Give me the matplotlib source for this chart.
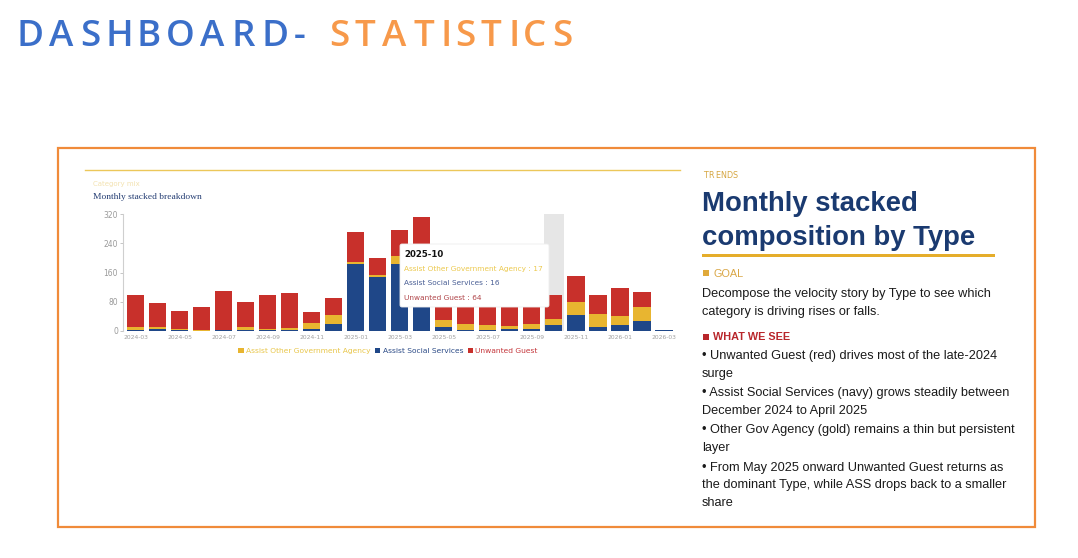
import matplotlib
matplotlib.use("Agg")
import matplotlib.pyplot as plt
from matplotlib.textpath import TextPath
from matplotlib.font_manager import FontProperties
from matplotlib.patches import Rectangle, FancyBboxPatch
import numpy as np

# ---------------- data ----------------
months = ["2024-03", "2024-04", "2024-05", "2024-06", "2024-07", "2024-08",
          "2024-09", "2024-10", "2024-11", "2024-12", "2025-01", "2025-02",
          "2025-03", "2025-04", "2025-05", "2025-06", "2025-07", "2025-08",
          "2025-09", "2025-10", "2025-11", "2025-12", "2026-01", "2026-02",
          "2026-03"]
other_gov = [8, 5, 1, 2, 2, 9, 5, 5, 14, 25, 7, 4, 23, 10, 18, 17, 14, 9, 15,
             17, 37, 34, 26, 37, 0]
social = [1, 4, 3, 0, 1, 1, 1, 3, 6, 18, 182, 149, 182, 224, 11, 1, 2, 4, 4,
          16, 43, 11, 15, 28, 3]
unwanted = [88, 66, 50, 63, 106, 70, 93, 97, 32, 47, 82, 48, 73, 78, 75, 72,
            75, 80, 70, 64, 70, 53, 77, 42, 0]
series_names = ["Assist Other Government Agency", "Assist Social Services",
                "Unwanted Guest"]
y_ticks = [0, 80, 160, 240, 320]
hover_month = "2025-10"

GOLD = "#e8b530"
NAVY = "#1f4788"
RED = "#c8302b"
ORANGE = "#f08b3a"

W, H = 1078, 558
fig = plt.figure(figsize=(W / 100, H / 100), dpi=100)
fig.patch.set_facecolor("white")

# background overlay (pixel coordinates)
bg = fig.add_axes([0, 0, 1, 1])
bg.set_xlim(0, W)
bg.set_ylim(H, 0)
bg.axis("off")
bg.set_zorder(0)


def spaced_text(ax, x, y, s, size, color, spacing, family, weight="normal"):
    fp = FontProperties(family=family, weight=weight, size=size)
    px_per_pt = 100 / 72.0
    for ch in s:
        ax.text(x, y, ch, fontproperties=fp, color=color, va="baseline",
                ha="left")
        if ch == " ":
            w = TextPath((0, 0), "a", prop=fp).get_extents().width * 0.9
        else:
            tp = TextPath((0, 0), ch, prop=fp)
            w = tp.get_extents().x1
        x += w * px_per_pt + spacing
    return x


# page title
xe = spaced_text(bg, 17, 46, "DASHBOARD-", 26.5, "#3b6fc9", 7.0, "Open Sans",
                 "semibold")
spaced_text(bg, xe + 18, 46, "STATISTICS", 26.5, "#f7994a", 7.0, "Open Sans",
            "semibold")

# orange frame
bg.add_patch(Rectangle((58, 148), 977, 379, fill=False, edgecolor=ORANGE,
                       linewidth=1.6))

# chart header
bg.plot([85, 680], [169.5, 169.5], color="#ecc75a", linewidth=1.0)
bg.text(93, 186, "Category mix", fontsize=5, color="#f3e2b0",
        family="DejaVu Sans", va="baseline")
bg.text(93, 199, "Monthly stacked breakdown", fontsize=6.8, color="#243d73",
        family="Liberation Serif", va="baseline")

# right panel
spaced_text(bg, 703, 178.5, "TRENDS", 5.8, "#d6a640", 0.8, "DejaVu Sans")
bg.text(702, 211, "Monthly stacked", fontsize=19.8, fontweight="bold",
        color="#1a3a70", family="Liberation Sans", va="baseline")
bg.text(702, 245, "composition by Type", fontsize=19.8, fontweight="bold",
        color="#1a3a70", family="Liberation Sans", va="baseline")
bg.add_patch(Rectangle((702, 253.5), 293, 3, facecolor="#e5ad2a",
                       edgecolor="none"))
bg.add_patch(Rectangle((703, 270), 6, 6, facecolor="#e0a93a",
                       edgecolor="none"))
bg.text(713, 277, "GOAL", fontsize=7.8, color="#d9a645",
        family="Liberation Sans", va="baseline")
body = dict(fontsize=9.2, color="#1a1a1a", family="Liberation Sans",
            va="baseline")
bg.text(702, 297, "Decompose the velocity story by Type to see which", **body)
bg.text(702, 315, "category is driving rises or falls.", **body)
bg.add_patch(Rectangle((703, 334), 6, 6, facecolor="#b8262b",
                       edgecolor="none"))
bg.text(713, 340, "WHAT WE SEE", fontsize=7.8, fontweight="bold",
        color="#b8262b", family="Liberation Sans", va="baseline")
lines = [
    (359, "\u2022 Unwanted Guest (red) drives most of the late-2024"),
    (377, "surge"),
    (396, "\u2022 Assist Social Services (navy) grows steadily between"),
    (414, "December 2024 to April 2025"),
    (433, "\u2022 Other Gov Agency (gold) remains a thin but persistent"),
    (451, "layer"),
    (471, "\u2022 From May 2025 onward Unwanted Guest returns as"),
    (488, "the dominant Type, while ASS drops back to a smaller"),
    (506, "share"),
]
for yy, s in lines:
    bg.text(702, yy, s, **body)

# ---------------- chart ----------------
x0_px, x1_px = 123, 675
y0_px, y1_px = 330.7, 214.3
ax = fig.add_axes([x0_px / W, (H - y0_px) / H, (x1_px - x0_px) / W,
                   (y0_px - y1_px) / H])
ax.set_zorder(1)
ax.patch.set_alpha(0)

x = np.arange(len(months))
og = np.array(other_gov)
ss = np.array(social)
ug = np.array(unwanted)

hi = months.index(hover_month)
ax.axvspan(hi - 0.47, hi + 0.47, color="#e6e6e6", zorder=0, linewidth=0)

bw = 0.78
b1 = ax.bar(x, ss, width=bw, color=NAVY, zorder=2, label=series_names[1])
b2 = ax.bar(x, og, width=bw, bottom=ss, color=GOLD, zorder=2,
            label=series_names[0])
b3 = ax.bar(x, ug, width=bw, bottom=ss + og, color=RED, zorder=2,
            label=series_names[2])

ax.set_xlim(-0.57, len(months) - 0.5)
ax.set_ylim(0, 320)
ax.set_yticks(y_ticks)
ax.set_yticklabels([str(v) for v in y_ticks], fontsize=5.5, color="#9a9a9a")
ax.set_xticks(x[::2])
ax.set_xticklabels(months[::2], fontsize=4.3, color="#a0a0a0")
for s in ["top", "right", "bottom"]:
    ax.spines[s].set_visible(False)
ax.spines["left"].set_color("#cfcfcf")
ax.spines["left"].set_linewidth(0.8)
ax.tick_params(axis="y", length=2, width=0.6, color="#bdbdbd", pad=1.5)
ax.tick_params(axis="x", length=0, pad=3)

leg = ax.legend(handles=[b2, b1, b3], labels=[series_names[0],
                series_names[1], series_names[2]],
                loc="center", bbox_to_anchor=(0.48, -0.175), ncol=3,
                frameon=False, fontsize=5.4, handlelength=0.7,
                handleheight=0.7, handletextpad=0.3, columnspacing=0.6,
                labelcolor=["#e8c64a", "#2b4a86", "#c4353a"])

# ---------------- tooltip ----------------
tt = fig.add_axes([0, 0, 1, 1])
tt.set_xlim(0, W)
tt.set_ylim(H, 0)
tt.axis("off")
tt.set_zorder(5)
tt.patch.set_alpha(0)
tt.add_patch(FancyBboxPatch((400, 244), 149, 63,
                            boxstyle="round,pad=0,rounding_size=2",
                            facecolor="white", edgecolor="#eeeeee",
                            linewidth=0.6))
tt.text(404, 257, hover_month, fontsize=6.2, fontweight="bold",
        color="#111111", family="DejaVu Sans", va="baseline")
tt.text(404, 271, f"{series_names[0]} : {other_gov[hi]}", fontsize=5.3,
        color="#ecc94e", family="DejaVu Sans", va="baseline")
tt.text(404, 285, f"{series_names[1]} : {social[hi]}", fontsize=5.3,
        color="#4a5f95", family="DejaVu Sans", va="baseline")
tt.text(404, 299.5, f"{series_names[2]} : {unwanted[hi]}", fontsize=5.3,
        color="#b0464a", family="DejaVu Sans", va="baseline")

fig.savefig("out.png", dpi=100, facecolor="white")
